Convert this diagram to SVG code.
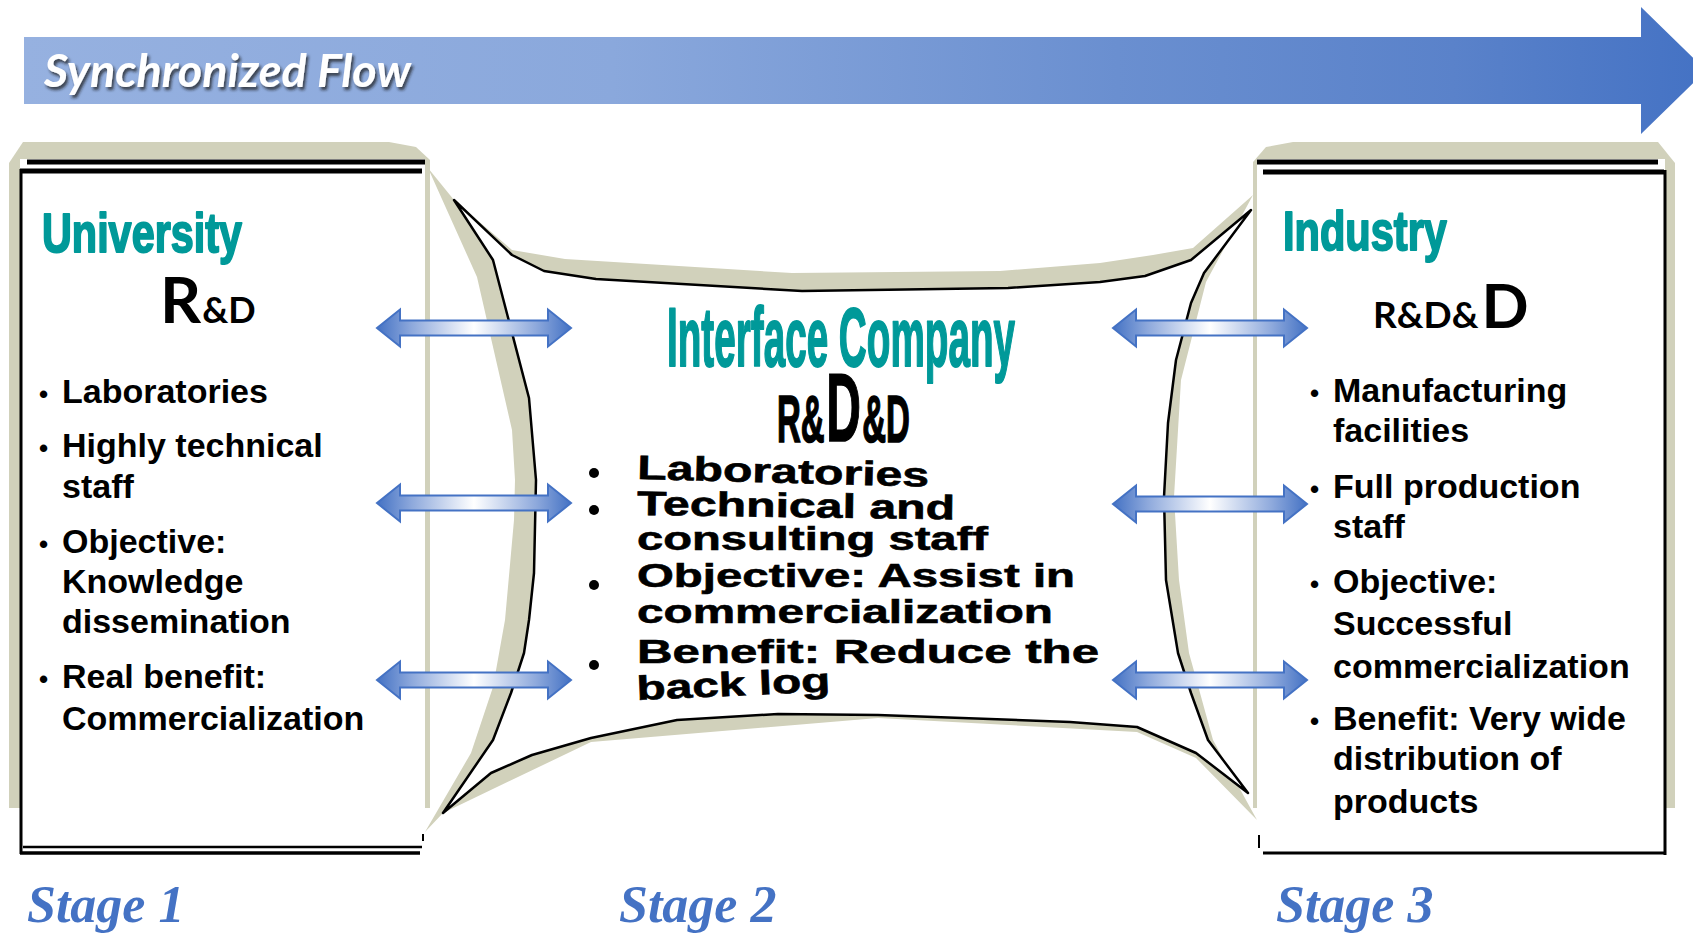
<svg xmlns="http://www.w3.org/2000/svg" xmlns:xlink="http://www.w3.org/1999/xlink" width="1693" height="934" viewBox="0 0 1693 934">
<style>
.beige{fill:#d1d1bb}
.bl{stroke:#000;fill:none}
.bt{font-family:"Liberation Sans",Arial,sans-serif;font-weight:700;font-size:34px;fill:#000}
.bul{font-size:26px}
.wa{font-family:"Liberation Sans",Arial,sans-serif;font-weight:700;fill:#009999;stroke:#009999;stroke-width:2;stroke-linejoin:round}
.rd{font-family:Lato,"Liberation Sans",sans-serif;font-weight:700;fill:#000}
.mid{font-family:"Liberation Sans",Arial,sans-serif;font-weight:700;font-size:34px;fill:#000;stroke:#000;stroke-width:0.6}
.stage{font-family:"Liberation Serif","Times New Roman",serif;font-weight:700;font-style:italic;font-size:52px;fill:#4472c4}
.arrow{fill:url(#ag);stroke:#4472c4;stroke-width:2}
</style>
<defs>
<linearGradient id="bg" gradientUnits="userSpaceOnUse" x1="24" y1="0" x2="1706" y2="0">
<stop offset="0" stop-color="#96b1e0"/>
<stop offset="0.35" stop-color="#8aa8dc"/>
<stop offset="0.65" stop-color="#6a8fd0"/>
<stop offset="0.85" stop-color="#5a82ca"/>
<stop offset="1" stop-color="#4472c4"/>
</linearGradient>
<linearGradient id="ag" x1="0" y1="0" x2="1" y2="0">
<stop offset="0" stop-color="#4472c4"/>
<stop offset="0.18" stop-color="#8ea9dc"/>
<stop offset="0.5" stop-color="#ffffff"/>
<stop offset="0.82" stop-color="#8ea9dc"/>
<stop offset="1" stop-color="#4472c4"/>
</linearGradient>
<filter id="shadow" x="-5%" y="-30%" width="110%" height="160%">
<feDropShadow dx="2" dy="3" stdDeviation="1.5" flood-color="#1a1a1a" flood-opacity="0.75"/>
</filter>
<path id="dbl" class="arrow" d="M-97,0 L-74,-18.5 L-74,-7.5 L74,-7.5 L74,-18.5 L97,0 L74,18.5 L74,7.5 L-74,7.5 L-74,18.5 Z"/>
</defs>

<g id="banner">
<path d="M24,37 L1641,37 L1641,7 L1706,70.5 L1641,134 L1641,104 L24,104 Z" fill="url(#bg)"/>
<text x="44" y="87" font-family="Lato,'Open Sans',sans-serif" font-weight="700" font-style="italic" font-size="46" fill="#fff" textLength="367" lengthAdjust="spacingAndGlyphs" filter="url(#shadow)">Synchronized Flow</text>
</g>

<g id="university">
<path class="beige" d="M9,163 L23,142 L389,142 L416,147 L430,160 L430,808 L9,808 Z"/>
<rect x="20" y="159" width="405" height="694" fill="#fff"/>
<path class="bl" stroke-width="5" d="M27,162 H425"/>
<path class="bl" stroke-width="5" d="M20,171 H422"/>
<path class="bl" stroke-width="3" d="M21,169 V854"/>
<path class="bl" stroke-width="2.5" d="M23,847 H422"/>
<path class="bl" stroke-width="3.5" d="M20,853 H420"/>
<path class="bl" stroke-width="2" d="M423,834 V841"/>
<text class="wa" x="42" y="252" font-size="56" textLength="200" lengthAdjust="spacingAndGlyphs">University</text>
<text class="rd" x="160" y="323"><tspan font-size="64">R</tspan><tspan font-size="36" dx="1">&amp;D</tspan></text>
<text class="bt"><tspan class="bul" x="39" y="403">•</tspan><tspan x="62" y="403">Laboratories</tspan></text>
<text class="bt"><tspan class="bul" x="39" y="457">•</tspan><tspan x="62" y="457">Highly technical</tspan><tspan x="62" y="498">staff</tspan></text>
<text class="bt"><tspan class="bul" x="39" y="553">•</tspan><tspan x="62" y="553">Objective:</tspan><tspan x="62" y="593">Knowledge</tspan><tspan x="62" y="633">dissemination</tspan></text>
<text class="bt"><tspan class="bul" x="39" y="688">•</tspan><tspan x="62" y="688">Real benefit:</tspan><tspan x="62" y="730">Commercialization</tspan></text>
</g>

<g id="interface-company">
<path class="beige" d="M428,168 L454,200 L512,250 L565,259 L792,273 L1000,271 L1100,263 L1153,255 L1193,248 L1253,195 L1206,282 L1181,380 L1174,497 L1179,580 L1189,653 L1213,740 L1257,820 L1196,758 L1137,732 L878,718 L591,742 L443,813 L425,832 L471,753 L493,687 L505,620 L514,520 L515,480 L512,430 L477,277 Z"/>
<path d="M454,200 L512,255 L544,271 L596,279 L802,291 L1008,288 L1100,282 L1145,276 L1191,260 L1251,210 L1204,273 L1191,303 L1176,360 L1168,423 L1164,497 L1166,580 L1178,653 L1191,693 L1208,740 L1248,793 L1196,753 L1137,727 L1070,722 L878,715 L778,714 L677,720 L591,738 L532,755 L491,773 L443,813 L493,740 L511,693 L524,653 L529,620 L534,573 L536,480 L529,398 L493,260 Z" fill="#fff" stroke="#000" stroke-width="2.5" stroke-linejoin="round"/>
<text class="wa" x="667" y="366" font-size="84" textLength="348" lengthAdjust="spacingAndGlyphs">Interface Company</text>
<text transform="translate(777,442) scale(0.5,1)" font-family="'Liberation Sans',Arial,sans-serif" font-weight="700" fill="#000" stroke="#000" stroke-width="1.6"><tspan font-size="66">R&amp;</tspan><tspan font-size="96" dx="3" dy="-1">D</tspan><tspan font-size="66" dx="3" dy="1">&amp;D</tspan></text>
<circle cx="594" cy="473" r="5"/>
<circle cx="594" cy="510" r="5"/>
<circle cx="594" cy="585" r="5"/>
<circle cx="594" cy="665" r="5"/>
<text class="mid" x="637" y="479" textLength="292" lengthAdjust="spacingAndGlyphs" transform="rotate(1.5 637 479)">Laboratories</text>
<text class="mid" x="637" y="515" textLength="318" lengthAdjust="spacingAndGlyphs" transform="rotate(0.8 637 515)">Technical and</text>
<text class="mid" x="637" y="550" textLength="351" lengthAdjust="spacingAndGlyphs">consulting staff</text>
<text class="mid" x="637" y="587" textLength="438" lengthAdjust="spacingAndGlyphs">Objective: Assist in</text>
<text class="mid" x="637" y="623" textLength="416" lengthAdjust="spacingAndGlyphs">commercialization</text>
<text class="mid" x="637" y="663" textLength="462" lengthAdjust="spacingAndGlyphs">Benefit: Reduce the</text>
<text class="mid" x="637" y="700" textLength="194" lengthAdjust="spacingAndGlyphs" transform="rotate(-2.5 637 700)">back log</text>
</g>

<g id="industry">
<path class="beige" d="M1253,162 L1266,147 L1293,142 L1658,142 L1675,163 L1675,808 L1253,808 Z"/>
<rect x="1257" y="159" width="408" height="694" fill="#fff"/>
<path class="bl" stroke-width="5" d="M1257,162 H1658"/>
<path class="bl" stroke-width="5" d="M1263,172 H1664"/>
<path class="bl" stroke-width="3" d="M1665,170 V855"/>
<path class="bl" stroke-width="3" d="M1263,853 H1666"/>
<path class="bl" stroke-width="2" d="M1259,835 V848"/>
<text class="wa" x="1283" y="250" font-size="56" textLength="164" lengthAdjust="spacingAndGlyphs">Industry</text>
<text class="rd" x="1373" y="328"><tspan font-size="37">R&amp;D&amp;</tspan><tspan font-size="62" dx="3">D</tspan></text>
<text class="bt"><tspan class="bul" x="1310" y="402">•</tspan><tspan x="1333" y="402">Manufacturing</tspan><tspan x="1333" y="442">facilities</tspan></text>
<text class="bt"><tspan class="bul" x="1310" y="498">•</tspan><tspan x="1333" y="498">Full production</tspan><tspan x="1333" y="538">staff</tspan></text>
<text class="bt"><tspan class="bul" x="1310" y="593">•</tspan><tspan x="1333" y="593">Objective:</tspan><tspan x="1333" y="635">Successful</tspan><tspan x="1333" y="678">commercialization</tspan></text>
<text class="bt"><tspan class="bul" x="1310" y="730">•</tspan><tspan x="1333" y="730">Benefit: Very wide</tspan><tspan x="1333" y="770">distribution of</tspan><tspan x="1333" y="813">products</tspan></text>
</g>

<g id="connectors">
<use href="#dbl" x="474" y="328"/>
<use href="#dbl" x="474" y="503"/>
<use href="#dbl" x="474" y="680"/>
<use href="#dbl" x="1210" y="328"/>
<use href="#dbl" x="1210" y="504"/>
<use href="#dbl" x="1210" y="680"/>
</g>

<g id="stages">
<text class="stage" x="27" y="922">Stage 1</text>
<text class="stage" x="619" y="922">Stage 2</text>
<text class="stage" x="1276" y="922">Stage 3</text>
</g>
</svg>
